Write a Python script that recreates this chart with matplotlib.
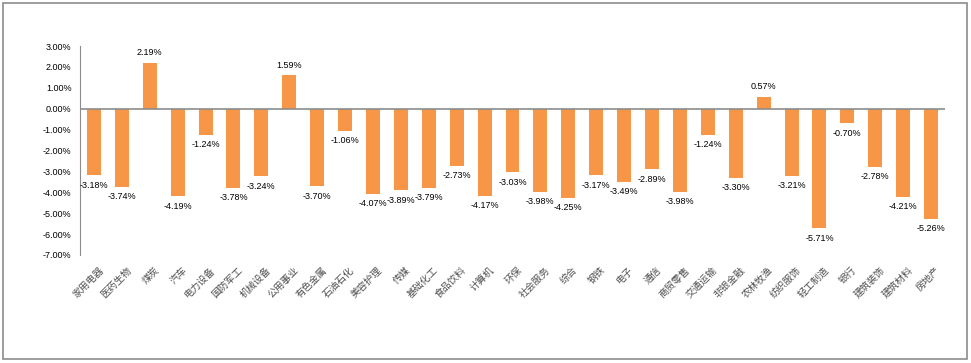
import matplotlib
matplotlib.use("Agg")
import matplotlib.pyplot as plt
from matplotlib.patches import Rectangle
from matplotlib.ticker import FuncFormatter, MultipleLocator

categories = ["家用电器", "医药生物", "煤炭", "汽车", "电力设备", "国防军工", "机械设备",
              "公用事业", "有色金属", "石油石化", "美容护理", "传媒", "基础化工", "食品饮料",
              "计算机", "环保", "社会服务", "综合", "钢铁", "电子", "通信", "商贸零售",
              "交通运输", "非银金融", "农林牧渔", "纺织服饰", "轻工制造", "银行", "建筑装饰",
              "建筑材料", "房地产"]
values = [-3.18, -3.74, 2.19, -4.19, -1.24, -3.78, -3.24, 1.59, -3.70, -1.06, -4.07,
          -3.89, -3.79, -2.73, -4.17, -3.03, -3.98, -4.25, -3.17, -3.49, -2.89, -3.98,
          -1.24, -3.30, 0.57, -3.21, -5.71, -0.70, -2.78, -4.21, -5.26]

plt.rcParams['font.family'] = ['Liberation Sans', 'Noto Sans CJK SC', 'DejaVu Sans']

fig = plt.figure(figsize=(9.71, 3.63), dpi=100)
fig.patch.set_facecolor('white')
# chart-area border
fig.patches.append(Rectangle((3/971, 1-359/363), 964/971, 356/363, transform=fig.transFigure,
                             fill=False, edgecolor='#8c8c8c', linewidth=1.2))

ax = fig.add_axes([80/971, 1-255/363, 865/971, 209/363])
x = list(range(len(categories)))
ax.bar(x, values, width=0.5, color='#F79646', zorder=2)
ax.set_xlim(-0.5, len(categories) - 0.5)
ax.set_ylim(-7, 3)
ax.yaxis.set_major_locator(MultipleLocator(1))
ax.yaxis.set_major_formatter(FuncFormatter(lambda v, p: f"{v:.2f}%"))
ax.tick_params(axis='y', length=0, labelsize=6.5, pad=6)
ax.tick_params(axis='x', length=0)
for s in ['top', 'right', 'bottom']:
    ax.spines[s].set_visible(False)
ax.spines['left'].set_color('#8c8c8c')
ax.axhline(0, color='#8c8c8c', linewidth=1.2, zorder=3)
ax.set_xticks(x)
ax.set_xticklabels([])
for xi, c in zip(x, categories):
    ax.annotate(c, xy=(xi, 0), xycoords=('data', 'axes fraction'), xytext=(3, -7),
                textcoords='offset points', rotation=45, rotation_mode='anchor',
                ha='right', va='top', fontsize=7, color='#505050', fontweight='light',
                family=['Noto Sans CJK SC'])
for xi, v in zip(x, values):
    off = 4 if v >= 0 else -4
    ax.annotate(f"{v:.2f}%", xy=(xi, v), xytext=(0, off), textcoords='offset points',
                ha='center', va='bottom' if v >= 0 else 'top', fontsize=6.5)

fig.savefig('out.png', dpi=100, facecolor='white')
